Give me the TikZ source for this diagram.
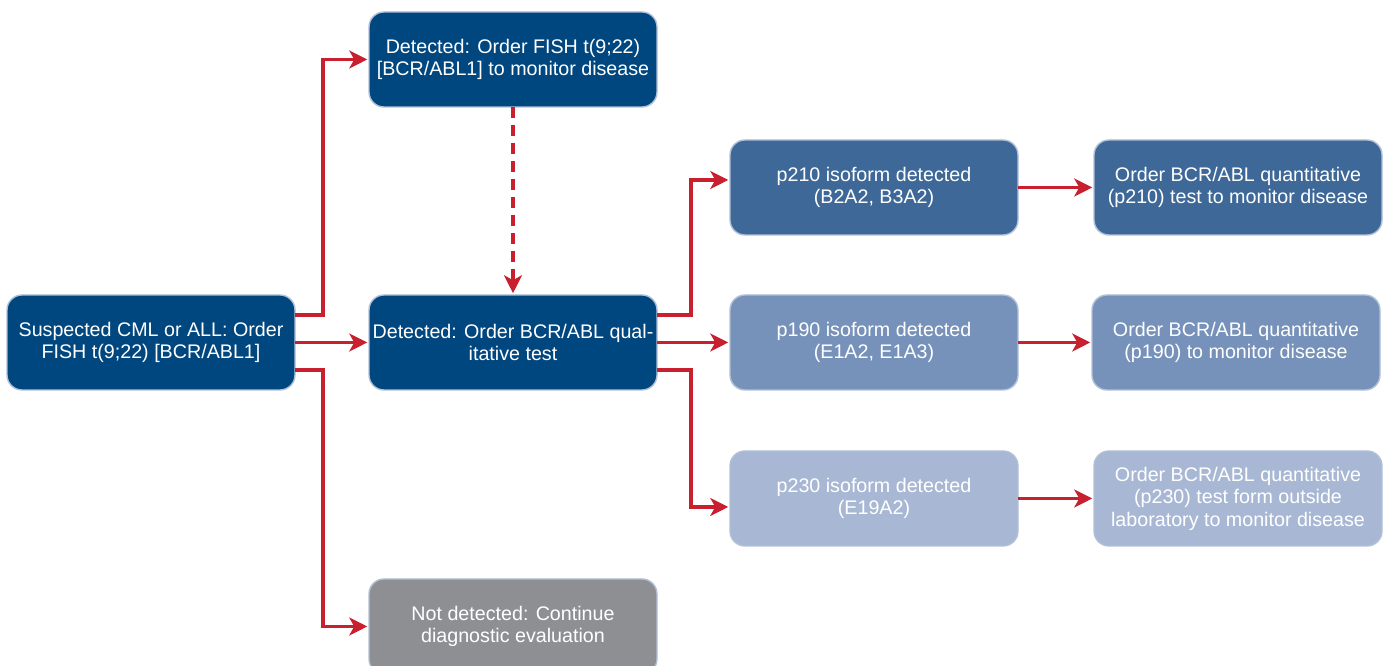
\documentclass[tikz,border=0pt]{standalone}
\usepackage{fontspec}
\setmainfont{Liberation Sans}
\usetikzlibrary{positioning}
\usetikzlibrary{calc}
\usetikzlibrary{arrows.meta}
\definecolor{navy}{RGB}{0,70,127}
\definecolor{midblue}{RGB}{62,104,152}
\definecolor{softblue}{RGB}{118,146,186}
\definecolor{paleblue}{RGB}{168,184,212}
\definecolor{stone}{RGB}{142,143,146}
\definecolor{edge}{RGB}{176,192,214}
\definecolor{arrowred}{RGB}{200,32,46}

\begin{document}
\begin{tikzpicture}[BOX/.style={rectangle, rounded corners=0.3cm, draw=edge, line width=0.8pt, text=white, minimum width=5.76cm, minimum height=1.9cm, inner xsep=0.5pt, align=center, outer sep=0pt, font=\fontsize{11.2}{12.8}\selectfont},
                    ARR/.style={-{Stealth[length=3.6mm, width=3.6mm, inset=1mm]}, arrowred, line width=1.8pt, shorten >=1pt}]

            \useasboundingbox (0,0) rectangle (27.74,13.32);

            \node[BOX, fill=navy] (S) at (3.02,6.47)
                {Suspected CML or ALL: Order\\
                 FISH t(9;22) [BCR/ABL1]};
            \node[BOX, fill=navy, right = 1.48cm of S] (Q)
                {Detected: Order BCR/ABL qual-\\
                 itative test};
            \node[BOX, fill=navy, above = 3.76cm of Q] (FT)
                {Detected: Order FISH t(9;22)\\
                 {[BCR/ABL1]} to monitor disease};
            \node[BOX, fill=stone, below = 3.78cm of Q] (ND)
                {Not detected: Continue\\
                 diagnostic evaluation};

            \node[BOX, fill=softblue, right = 1.46cm of Q] (P190)
                {p190 isoform detected\\
                 (E1A2, E1A3)};
            \node[BOX, fill=midblue, above = 1.2cm of P190] (P210)
                {p210 isoform detected\\
                 (B2A2, B3A2)};
            \node[BOX, fill=paleblue, below = 1.22cm of P190] (P230)
                {p230 isoform detected\\
                 (E19A2)};

            \node[BOX, fill=midblue, right = 1.52cm of P210] (O210)
                {Order BCR/ABL quantitative\\
                 (p210) test to monitor disease};
            \node[BOX, fill=softblue, right = 1.48cm of P190] (O190)
                {Order BCR/ABL quantitative\\
                 (p190) to monitor disease};
            \node[BOX, fill=paleblue, right = 1.52cm of P230] (O230)
                {Order BCR/ABL quantitative\\
                 (p230) test form outside\\
                 laboratory to monitor disease};

            \draw[ARR] ($(S.east)+(0,0.55)$) -- ++(0.56,0) |- (FT.west);
            \draw[ARR] (S.east) -- (Q.west);
            \draw[ARR] ($(S.east)+(0,-0.55)$) -- ++(0.56,0) |- (ND.west);
            \draw[ARR, dash pattern=on 0.22cm off 0.14cm] (FT.south) -- (Q.north);

            \draw[ARR] ($(Q.east)+(0,0.55)$) -- ++(0.68,0) |- ($(P210.west)+(0,0.15)$);
            \draw[ARR] (Q.east) -- (P190.west);
            \draw[ARR] ($(Q.east)+(0,-0.55)$) -- ++(0.68,0) |- ($(P230.west)+(0,-0.17)$);

            \draw[ARR] (P210.east) -- (O210.west);
            \draw[ARR] (P190.east) -- (O190.west);
            \draw[ARR] (P230.east) -- (O230.west);
        \end{tikzpicture}
\end{document}
